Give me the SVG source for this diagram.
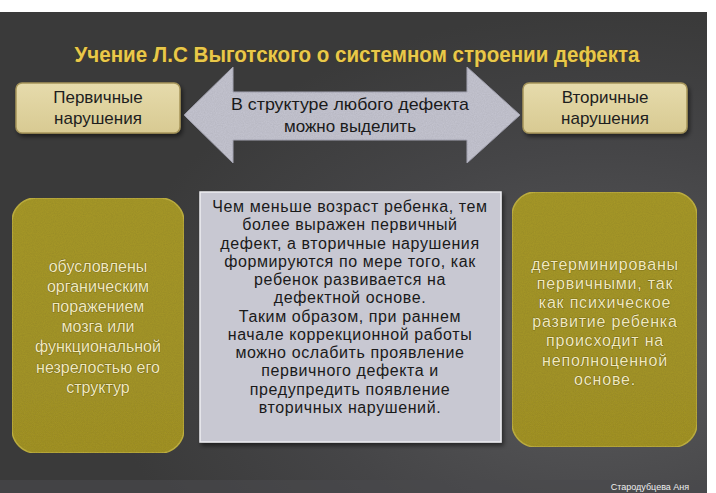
<svg xmlns="http://www.w3.org/2000/svg" width="716" height="493" viewBox="0 0 716 493">
  <defs>
    <radialGradient id="bgGlow" cx="0.85" cy="0.7" r="0.7">
      <stop offset="0" stop-color="#5a5a5c"/>
      <stop offset="0.6" stop-color="#454547"/>
      <stop offset="1" stop-color="#3a3a3a"/>
    </radialGradient>
    <linearGradient id="beige" x1="0" y1="0" x2="0" y2="1">
      <stop offset="0" stop-color="#e6dbac"/>
      <stop offset="1" stop-color="#d8ca92"/>
    </linearGradient>
    <linearGradient id="olive" x1="0" y1="0" x2="0" y2="1">
      <stop offset="0" stop-color="#a89a2c"/>
      <stop offset="1" stop-color="#a49428"/>
    </linearGradient>
    <filter id="noise" x="0" y="0" width="100%" height="100%">
      <feTurbulence type="fractalNoise" baseFrequency="0.9" numOctaves="2" seed="3" result="n"/>
      <feColorMatrix in="n" type="matrix" values="0 0 0 0 0  0 0 0 0 0  0 0 0 0 0  0 0 0 0.18 0" result="na"/>
      <feComposite in="na" in2="SourceGraphic" operator="in" result="nc"/>
      <feMerge><feMergeNode in="SourceGraphic"/><feMergeNode in="nc"/></feMerge>
    </filter>
    <filter id="shadow" x="-10%" y="-10%" width="130%" height="130%">
      <feDropShadow dx="2" dy="3" stdDeviation="2" flood-color="#000" flood-opacity="0.5"/>
    </filter>
  </defs>
  <style>
    text { font-family: "Liberation Sans", Arial, sans-serif; text-anchor: middle; }
    .title { font-size: 22px; font-weight: bold; fill: #e9c84a; stroke: #4a3c08; stroke-width: 0.6; paint-order: stroke; }
    .small { fill: url(#beige); stroke: #a6955a; stroke-width: 1.5; }
    .smallT { font-size: 17px; fill: #1e1e1e; }
    .big { fill: url(#olive); stroke: #c2b342; stroke-width: 1.5; }
    .bigT { font-size: 16px; fill: #f1e9bd; stroke: #5c5210; stroke-width: 0.7; paint-order: stroke; }
    .bigR { letter-spacing: 0.8px; }
    .mid { fill: #c8c8d2; stroke: #eeeef2; stroke-width: 1.5; }
    .midT { font-size: 16px; fill: #1a1a1a; letter-spacing: 0.6px; }
    .arrow { fill: #c6c6d2; stroke: #a8a8b6; stroke-width: 1; }
    .arrowT { font-size: 17px; fill: #1a1a1a; }
  </style>

  <rect x="0" y="0" width="716" height="493" fill="#ffffff"/>
  <rect x="0" y="12" width="707" height="481" fill="url(#bgGlow)"/>
  <rect x="0" y="480" width="707" height="13" fill="#4a4a4c" opacity="0.6"/>

  <g id="title">
    <text class="title" x="357" y="62" textLength="565" lengthAdjust="spacingAndGlyphs">Учение Л.С Выготского о системном строении дефекта</text>
  </g>

  <g id="connectors">
    <polygon class="arrow" filter="url(#noise)" points="184,115 233,67 233,92 467,92 467,67 520,115 467,163 467,140 233,140 233,163"/>
    <text class="arrowT" x="350" y="110" textLength="238" lengthAdjust="spacingAndGlyphs">В структуре любого дефекта</text>
    <text class="arrowT" x="350" y="132">можно выделить</text>
  </g>

  <g id="primary">
    <rect class="small" filter="url(#shadow)" x="16" y="83" width="164" height="50" rx="6"/>
    <text class="smallT" x="98" y="103">Первичные</text>
    <text class="smallT" x="98" y="124">нарушения</text>
  </g>

  <g id="secondary">
    <rect class="small" filter="url(#shadow)" x="523" y="83" width="164" height="50" rx="6"/>
    <text class="smallT" x="605" y="103">Вторичные</text>
    <text class="smallT" x="605" y="124">нарушения</text>
  </g>

  <g id="primary-desc">
    <rect class="big" filter="url(#noise)" x="12" y="198" width="172" height="255" rx="24"/>
    <text class="bigT" x="98" y="272">обусловлены</text>
    <text class="bigT" x="98" y="292">органическим</text>
    <text class="bigT" x="98" y="312">поражением</text>
    <text class="bigT" x="98" y="332">мозга или</text>
    <text class="bigT" x="98" y="352">функциональной</text>
    <text class="bigT" x="98" y="373">незрелостью его</text>
    <text class="bigT" x="98" y="393">структур</text>
  </g>

  <g id="center">
    <rect class="mid" filter="url(#shadow)" x="200" y="192" width="301" height="250"/>
    <text class="midT" x="350" y="212">Чем меньше возраст ребенка, тем</text>
    <text class="midT" x="350" y="230">более выражен первичный</text>
    <text class="midT" x="350" y="249">дефект, а вторичные нарушения</text>
    <text class="midT" x="350" y="267">формируются по мере того, как</text>
    <text class="midT" x="350" y="285">ребенок развивается на</text>
    <text class="midT" x="350" y="303">дефектной основе.</text>
    <text class="midT" x="350" y="322">Таким образом, при раннем</text>
    <text class="midT" x="350" y="340">начале коррекционной работы</text>
    <text class="midT" x="350" y="358">можно ослабить проявление</text>
    <text class="midT" x="350" y="376">первичного дефекта и</text>
    <text class="midT" x="350" y="395">предупредить появление</text>
    <text class="midT" x="350" y="413">вторичных нарушений.</text>
  </g>

  <g id="secondary-desc">
    <rect class="big" filter="url(#noise)" x="512" y="192" width="185" height="255" rx="24"/>
    <text class="bigT bigR" x="605" y="270">детерминированы</text>
    <text class="bigT bigR" x="605" y="289">первичными, так</text>
    <text class="bigT bigR" x="605" y="308">как психическое</text>
    <text class="bigT bigR" x="605" y="327">развитие ребенка</text>
    <text class="bigT bigR" x="605" y="346">происходит на</text>
    <text class="bigT bigR" x="605" y="366">неполноценной</text>
    <text class="bigT bigR" x="605" y="385">основе.</text>
  </g>

  <g id="signature">
    <text x="650" y="490" style="font-size:9px; fill:#eeeeee;">Стародубцева Аня</text>
  </g>
</svg>
